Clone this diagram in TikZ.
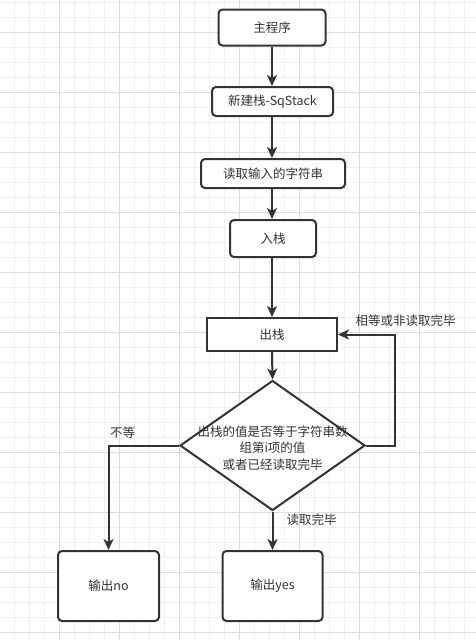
\documentclass[tikz,border=0pt]{standalone}
\usepackage{fontspec}
\setmainfont{Noto Sans CJK SC}
\usetikzlibrary{shapes.geometric,arrows.meta}
\definecolor{ln}{HTML}{333333}
\definecolor{tx}{HTML}{333333}
\definecolor{gminor}{HTML}{F0F0F0}
\definecolor{gmajor}{HTML}{DCDCDC}
\tikzset{
  box/.style={draw=ln, line width=2pt, fill=white, rounded corners=4pt, text=tx, font=\fontsize{12.5pt}{15pt}\selectfont, inner sep=0pt, align=center},
  sqbox/.style={box, rounded corners=0pt},
  dia/.style={draw=ln, line width=2pt, fill=white, diamond, inner sep=0pt},
  lbl/.style={text=tx, font=\fontsize{12.5pt}{15pt}\selectfont, inner sep=0pt},
  arr/.style={draw=ln, line width=2pt, -{Stealth[length=11pt, width=10pt, inset=3pt]}},
  ln2/.style={draw=ln, line width=2pt},
}
\begin{document}
\begin{tikzpicture}[x=1pt,y=-1pt]
\useasboundingbox (0,0) rectangle (476,640);
\fill[white] (0,0) rectangle (476,640);
% grid
\foreach \i in {0,...,32} {\draw[gminor, line width=0.8pt] (14+15*\i,0) -- (14+15*\i,640);}
\foreach \i in {0,...,43} {\draw[gminor, line width=0.8pt] (0,2+15*\i) -- (476,2+15*\i);}
\foreach \i in {-1,...,7} {\draw[gmajor, line width=0.8pt] (59+60*\i,0) -- (59+60*\i,640);}
\foreach \i in {0,...,10} {\draw[gmajor, line width=0.8pt] (0,32+60*\i) -- (476,32+60*\i);}
% nodes
\node[box, minimum width=107pt, minimum height=36pt] (main) at (272,27.5) {主程序};
\node[box, minimum width=121pt, minimum height=29pt] (new) at (272.5,101.5) {新建栈-SqStack};
\node[box, minimum width=144pt, minimum height=29pt] (read) at (273,173.5) {读取输入的字符串};
\node[box, minimum width=86pt, minimum height=37pt] (push) at (273,238.5) {入栈};
\node[sqbox, minimum width=130pt, minimum height=33pt] (pop) at (272,334.5) {出栈};
\node[dia, minimum width=185pt, minimum height=130pt] (d) at (272.5,445.5) {};
\node[lbl, align=center, font=\fontsize{12.5pt}{16.5pt}\selectfont] (dt) at (272.5,448) {出栈的值是否等于字符串数\\组第i项的值\\或者已经读取完毕};
\node[box, minimum width=101pt, minimum height=70pt] (no) at (108.5,586) {输出no};
\node[box, minimum width=100pt, minimum height=70pt] (yes) at (272.5,586) {输出yes};
\coordinate (lp) at (395,400);
% connectors
\draw[arr] (main.south -| 272,0) -- (new.north -| 272,0);
\draw[arr] (new.south -| 272,0) -- (read.north -| 272,0);
\draw[arr] (read.south -| 272,0) -- (push.north -| 272,0);
\draw[arr] (push.south -| 272,0) -- (pop.north -| 272,0);
\draw[arr] (pop.south -| 272,0) -- (d.north);
\draw[arr] (d.west) -| (no.north);
\draw[arr] (d.south) -- (yes.north -| d.south);
\draw[arr] (d.east) -- (d.east -| lp) |- (pop.east);
% labels
\node[lbl] (l1) at (405.5,321) {相等或非读取完毕};
\node[lbl] (l2) at (122.5,433) {不等};
\node[lbl] (l3) at (311.5,519.5) {读取完毕};
\end{tikzpicture}
\end{document}
